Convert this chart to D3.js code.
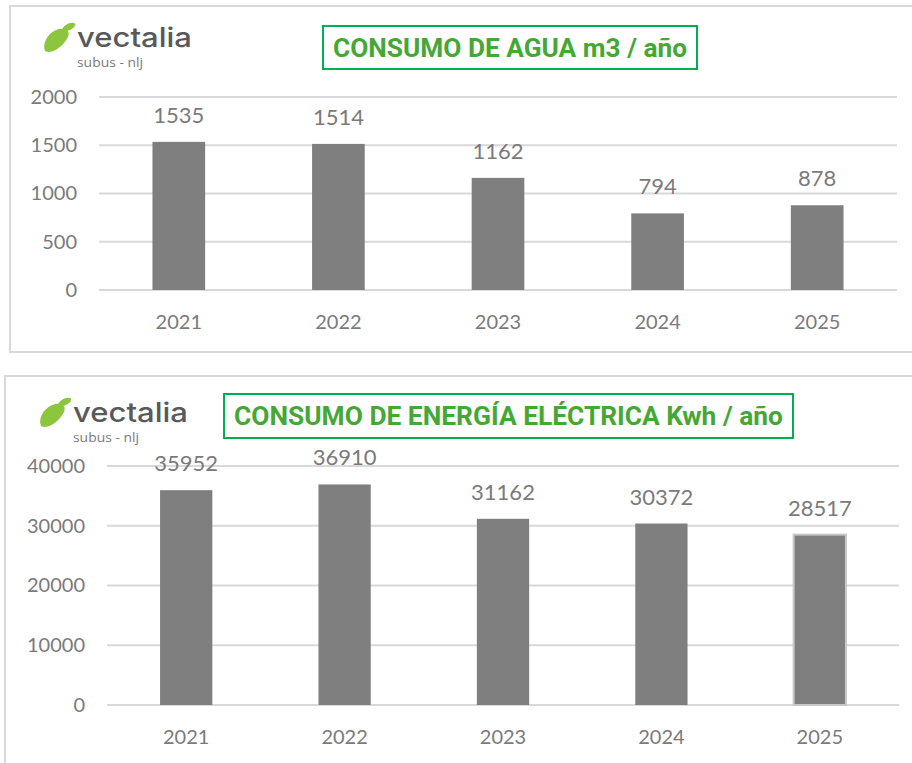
<!DOCTYPE html>
<html>
<head>
<meta charset="utf-8">
<script src="https://cdn.jsdelivr.net/npm/d3@7"></script>
<style>
  body { margin: 0; background: #fff; }
  svg { display: block; }
</style>
</head>
<body>
<svg id="chart" width="912" height="763"></svg>
<script>
// data
const years = ['2021', '2022', '2023', '2024', '2025'];
const waterValues = [1535, 1514, 1162, 794, 878];
const energyValues = [35952, 36910, 31162, 30372, 28517];
const waterTicks = [0, 500, 1000, 1500, 2000];
const energyTicks = [0, 10000, 20000, 30000, 40000];
const waterTitle = 'CONSUMO DE AGUA m3 / año';
const energyTitle = 'CONSUMO DE ENERGÍA ELÉCTRICA Kwh / año';

const svg = d3.select('#chart');
const grey = '#7f7f7f';
const textGrey = '#7a7a7a';
const green = '#00b050';
const titleGreen = '#45a735';

function drawLogo(g) {
	// leaf marks
	g.append('path')
		.attr('d', 'M45,51 C42,44 47,34 56,30 C64,27 71,30 68,37 C64,45 53,55 45,51 Z')
		.attr('fill', '#8cc63e');
	g.append('path')
		.attr('d', 'M62,30 C63,26 69,22 74,23 C77,24 74,28 70,30 C67,31 63,32 62,30 Z')
		.attr('fill', '#8cc63e');
	g.append('text')
		.attr('x', 77).attr('y', 47)
		.attr('font-family', 'Inter, "DejaVu Sans", sans-serif')
		.attr('font-size', 27)
		.attr('font-weight', 500)
		.attr('textLength', 115)
		.attr('lengthAdjust', 'spacingAndGlyphs')
		.attr('fill', '#58595b')
		.text('vectalia');
	g.append('text')
		.attr('x', 77).attr('y', 67)
		.attr('font-family', '"Open Sans", sans-serif')
		.attr('font-size', 13)
		.attr('textLength', 66)
		.attr('lengthAdjust', 'spacingAndGlyphs')
		.attr('fill', '#7a7a7a')
		.text('subus - nlj');
}

function drawPanel(cfg) {
	const g = svg.append('g');

	// panel frame
	g.append('rect')
		.attr('x', cfg.frame[0]).attr('y', cfg.frame[1])
		.attr('width', cfg.frame[2]).attr('height', cfg.frame[3])
		.attr('fill', 'none')
		.attr('stroke', '#d9d9d9')
		.attr('stroke-width', 2);

	drawLogo(g.append('g').attr('transform', `translate(${cfg.logo[0]},${cfg.logo[1]})`));

	// title box
	g.append('rect')
		.attr('x', cfg.titleBox[0]).attr('y', cfg.titleBox[1])
		.attr('width', cfg.titleBox[2]).attr('height', cfg.titleBox[3])
		.attr('fill', '#fff')
		.attr('stroke', green)
		.attr('stroke-width', 2);
	g.append('text')
		.attr('x', cfg.titleBox[0] + cfg.titleBox[2] / 2)
		.attr('y', cfg.titleBox[1] + cfg.titleBox[3] / 2 + 9)
		.attr('text-anchor', 'middle')
		.attr('font-family', 'Roboto, "Liberation Sans", sans-serif')
		.attr('font-weight', 700)
		.attr('font-size', 25)
		.attr('textLength', cfg.titleBox[2] - 20)
		.attr('lengthAdjust', 'spacingAndGlyphs')
		.attr('fill', titleGreen)
		.text(cfg.title);

	const x = d3.scaleBand()
		.domain(years)
		.range([cfg.left, cfg.right])
		.paddingInner(0.67)
		.paddingOuter(0.335);
	const y = d3.scaleLinear()
		.domain([0, d3.max(cfg.ticks)])
		.range([cfg.bottom, cfg.top]);

	// gridlines
	g.append('g').selectAll('line')
		.data(cfg.ticks)
		.join('line')
		.attr('x1', cfg.left).attr('x2', cfg.right)
		.attr('y1', d => y(d)).attr('y2', d => y(d))
		.attr('stroke', '#d9d9d9')
		.attr('stroke-width', 2);

	// y axis labels
	const yAxis = g.append('g')
		.attr('transform', `translate(${cfg.left - 22},0)`)
		.call(d3.axisLeft(y).tickValues(cfg.ticks).tickSize(0).tickPadding(0).tickFormat(d3.format('d')));
	yAxis.select('.domain').remove();
	yAxis.selectAll('text')
		.attr('font-family', 'Lato, "Open Sans", sans-serif')
		.attr('font-size', 20)
		.attr('fill', textGrey);

	// bars
	g.append('g').selectAll('rect')
		.data(cfg.values)
		.join('rect')
		.attr('x', (d, i) => x(years[i]))
		.attr('y', d => y(d))
		.attr('width', x.bandwidth())
		.attr('height', d => cfg.bottom - y(d))
		.attr('fill', grey)
		.attr('stroke', (d, i) => cfg.outlineLast && i === years.length - 1 ? '#c8c8c8' : 'none')
		.attr('stroke-width', 2);

	// value labels
	g.append('g').selectAll('text')
		.data(cfg.values)
		.join('text')
		.attr('x', (d, i) => x(years[i]) + x.bandwidth() / 2)
		.attr('y', d => y(d) - 19)
		.attr('text-anchor', 'middle')
		.attr('font-family', 'Lato, "Open Sans", sans-serif')
		.attr('font-size', 22)
		.attr('fill', textGrey)
		.text(d => d);

	// x axis labels
	const xAxis = g.append('g')
		.attr('transform', `translate(0,${cfg.bottom + 25})`)
		.call(d3.axisBottom(x).tickSize(0).tickPadding(0));
	xAxis.select('.domain').remove();
	xAxis.selectAll('text')
		.attr('font-family', 'Lato, "Open Sans", sans-serif')
		.attr('font-size', 20)
		.attr('fill', textGrey);
}

drawPanel({
	frame: [10, 6, 920, 346],
	logo: [0, 0],
	titleBox: [323, 26, 374, 43],
	title: waterTitle,
	values: waterValues,
	ticks: waterTicks,
	left: 99, right: 897, top: 97, bottom: 290
});

drawPanel({
	frame: [5, 376, 920, 400],
	logo: [-4, 375],
	titleBox: [224, 394, 569, 44],
	title: energyTitle,
	values: energyValues,
	ticks: energyTicks,
	left: 107, right: 899, top: 466, bottom: 705,
	outlineLast: true
});
</script>
</body>
</html>
